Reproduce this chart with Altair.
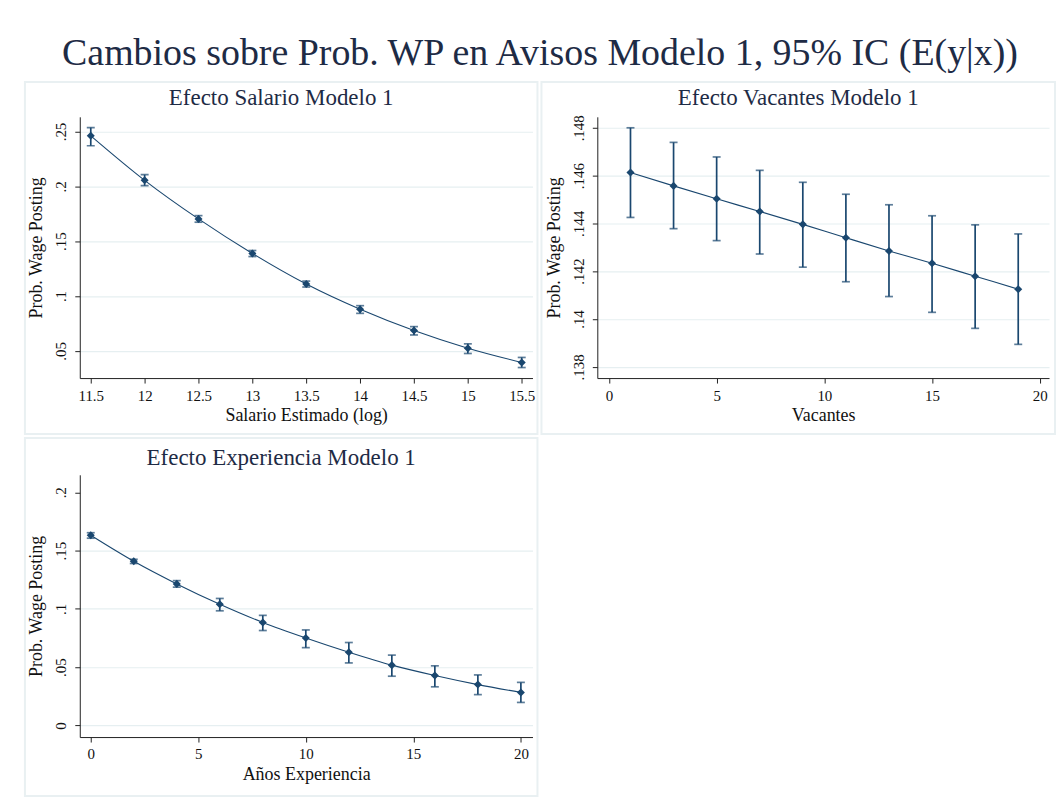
import altair as alt
import pandas as pd

# ---------------- data ----------------
sal_x = [11.5, 12, 12.5, 13, 13.5, 14, 14.5, 15, 15.5]
sal_y = [0.2461, 0.2055, 0.1703, 0.1388, 0.1109, 0.0879, 0.0685, 0.0524, 0.0394]
sal_lo = [0.2370, 0.2006, 0.1673, 0.1360, 0.1082, 0.0842, 0.0645, 0.0476, 0.0348]
sal_hi = [0.2536, 0.2106, 0.1733, 0.1415, 0.1136, 0.0912, 0.0721, 0.0564, 0.0440]

vac_x = [1, 3, 5, 7, 9, 11, 13, 15, 17, 19]
vac_y = [0.14613, 0.14557, 0.14503, 0.14450, 0.14396, 0.14340, 0.14285, 0.14233, 0.14179, 0.14125]
vac_lo = [0.14425, 0.14378, 0.14328, 0.14272, 0.14217, 0.14156, 0.14094, 0.14028, 0.13961, 0.13894]
vac_hi = [0.14800, 0.14739, 0.14678, 0.14622, 0.14572, 0.14522, 0.14478, 0.14432, 0.14394, 0.14356]

exp_x = [0, 2, 4, 6, 8, 10, 12, 14, 16, 18, 20]
exp_y = [0.1631, 0.1408, 0.1214, 0.1039, 0.0883, 0.0750, 0.0628, 0.0517, 0.0428, 0.0350, 0.0283]
exp_lo = [0.1606, 0.1389, 0.1186, 0.0983, 0.0814, 0.0667, 0.0536, 0.0422, 0.0331, 0.0264, 0.0197]
exp_hi = [0.1653, 0.1425, 0.1242, 0.1089, 0.0944, 0.0819, 0.0711, 0.0603, 0.0511, 0.0433, 0.0369]

main_title = "Cambios sobre Prob. WP en Avisos Modelo 1, 95% IC (E(y|x))"
ytitle = "Prob. Wage Posting"

NAVY = "#1a476f"
FONT = "Liberation Serif"
TXT = "#1e2b45"
GRID = "#e6eff1"
FRAME = "#e9f0f2"

label_expr = "datum.value == 0 ? '0' : substring(format(datum.value, '~g'), 1)"


def panel(title, xs, ys, los, his, xtitle, xdom, xticks, ydom, yticks, w, h,
          frame, title_y, grid_color=GRID):
    df = pd.DataFrame({"x": xs, "y": ys, "lo": los, "hi": his})
    one = pd.DataFrame({"a": [0]})
    fl, ft, fr, fb = frame
    xenc = alt.X("x:Q", title=xtitle,
                 scale=alt.Scale(domain=xdom, nice=False, zero=False),
                 axis=alt.Axis(values=xticks, grid=False, labelFlush=False,
                               format="~g", labelPadding=5, titlePadding=4))
    yaxis = alt.Axis(values=yticks, grid=True, labelAngle=270,
                     labelAlign="center", labelBaseline="bottom",
                     labelExpr=label_expr, labelPadding=6, titlePadding=8,
                     gridColor=grid_color)
    yscale = alt.Scale(domain=ydom, nice=False, zero=False)
    base = alt.Chart(df)
    frame_mark = alt.Chart(one).mark_rect(fill="white", fillOpacity=0, stroke=FRAME,
                                          strokeWidth=2).encode(
        x=alt.value(fl), x2=alt.value(fr), y=alt.value(ft), y2=alt.value(fb))
    title_mark = alt.Chart(one).mark_text(font=FONT, fontSize=23, color=TXT,
                                          align="center", baseline="middle").encode(
        x=alt.value((fl + fr) / 2), y=alt.value(title_y), text=alt.value(title))
    line = base.mark_line(interpolate="monotone", color=NAVY, strokeWidth=1.1).encode(
        x=xenc, y=alt.Y("y:Q", title=ytitle, scale=yscale, axis=yaxis))
    rule = base.mark_rule(color=NAVY, strokeWidth=1.7).encode(
        x="x:Q", y="lo:Q", y2="hi:Q")
    tlo = base.mark_tick(orient="horizontal", color=NAVY, size=8, thickness=1.7).encode(
        x="x:Q", y="lo:Q")
    thi = base.mark_tick(orient="horizontal", color=NAVY, size=8, thickness=1.7).encode(
        x="x:Q", y="hi:Q")
    pts = base.mark_point(shape="diamond", filled=True, color=NAVY, size=65, opacity=1).encode(
        x="x:Q", y="y:Q")
    return alt.layer(frame_mark, line, rule, tlo, thi, pts, title_mark).properties(
        width=w, height=h)


p1 = panel("Efecto Salario Modelo 1", sal_x, sal_y, sal_lo, sal_hi,
           "Salario Estimado (log)", [11.398, 15.60],
           [11.5, 12, 12.5, 13, 13.5, 14, 14.5, 15, 15.5],
           [0.0252, 0.2634], [0.05, 0.1, 0.15, 0.2, 0.25], 454, 262,
           (-55, -35, 459, 318), -19)
p2 = panel("Efecto Vacantes Modelo 1", vac_x, vac_y, vac_lo, vac_hi,
           "Vacantes", [-0.54, 20.43], [0, 5, 10, 15, 20],
           [0.13753, 0.14846], [0.138, 0.14, 0.142, 0.144, 0.146, 0.148], 453, 262,
           (-56, -35, 459, 318), -19)
p3 = panel("Efecto Experiencia Modelo 1", exp_x, exp_y, exp_lo, exp_hi,
           "Años Experiencia", [-0.51, 20.54], [0, 5, 10, 15, 20],
           [-0.01, 0.215], [0, 0.05, 0.1, 0.15, 0.2], 454, 263,
           (-55, -37, 459, 322), -17,
           grid_color={"condition": {"test": "datum.value > 0.19", "value": "transparent"},
                       "value": GRID})

chart = alt.concat(p1, p2, p3, columns=2, spacing=2).properties(
    title=alt.TitleParams(main_title, font=FONT, fontSize=38, fontWeight="normal",
                          color=TXT, anchor="middle", offset=8),
    padding={"left": 24, "top": 34, "right": 4, "bottom": 4},
    background="white",
).configure_view(stroke=None).configure_axis(
    labelFont=FONT, titleFont=FONT, labelFontSize=15, titleFontSize=18,
    labelColor="#111111", titleColor="#111111", titleFontWeight="normal",
    domainColor="#222222", tickColor="#222222", tickSize=5,
    gridWidth=1.2,
)

chart.save("out.html", embed_options={"renderer": "svg", "actions": False})
